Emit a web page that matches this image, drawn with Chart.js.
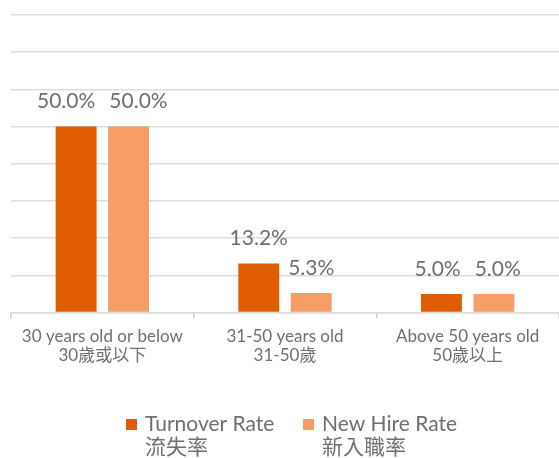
<!DOCTYPE html>
<html lang="zh-Hant">
<head>
    <meta charset="UTF-8">
    <title>Turnover and New Hire Rate by Age</title>
    <script src="https://cdn.jsdelivr.net/npm/chart.js"></script>
    <style>
        html, body { margin: 0; padding: 0; background: #fff; }
        #wrap { width: 559px; height: 458px; position: relative; }
    </style>
</head>
<body>
    <div id="wrap"><canvas id="rateChart"></canvas></div>

    <script type="text/javascript">
        // age groups (two lines each: English / Chinese)
        var categories = [
            ["30 years old or below", "30歲或以下"],
            ["31-50 years old", "31-50歲"],
            ["Above 50 years old", "50歲以上"]
        ];
        var turnoverRate = [50.0, 13.2, 5.0];
        var newHireRate = [50.0, 5.3, 5.0];
        var seriesNames = [["Turnover Rate", "流失率"], ["New Hire Rate", "新入職率"]];
        var seriesColors = ["#df5c00", "#f79e68"];

        var fontFamily = "Lato, 'Noto Sans CJK TC', sans-serif";
        var textColor = "#6e6e6e";

        // value labels above every bar, pushed apart when two of a group collide
        var barLabels = {
            id: "barLabels",
            afterDatasetsDraw: function(chart) {
                var ctx = chart.ctx;
                ctx.save();
                ctx.font = "21px " + fontFamily;
                ctx.fillStyle = textColor;
                ctx.textAlign = "center";
                ctx.textBaseline = "middle";
                var a = chart.getDatasetMeta(0).data;
                var b = chart.getDatasetMeta(1).data;
                var sets = chart.data.datasets;
                for (var j = 0; j < a.length; j++) {
                    var t1 = sets[0].data[j].toFixed(1) + "%";
                    var t2 = sets[1].data[j].toFixed(1) + "%";
                    var x1 = a[j].x, x2 = b[j].x;
                    var y1 = a[j].y - 25, y2 = b[j].y - 25;
                    if (Math.abs(y1 - y2) < 20) {
                        var need = (ctx.measureText(t1).width + ctx.measureText(t2).width) / 2 + 14;
                        var over = need - (x2 - x1);
                        if (over > 0) { x1 -= over / 2; x2 += over / 2; }
                    }
                    ctx.fillText(t1, x1, y1);
                    ctx.fillText(t2, x2, y2);
                }
                ctx.restore();
            }
        };

        // two-line legend at the bottom
        var bottomLegend = {
            id: "bottomLegend",
            afterDraw: function(chart) {
                var ctx = chart.ctx;
                ctx.save();
                ctx.font = "21px " + fontFamily;
                ctx.textBaseline = "middle";
                ctx.textAlign = "left";
                var xs = [126, 303];
                seriesNames.forEach(function(lines, i) {
                    ctx.fillStyle = seriesColors[i];
                    ctx.fillRect(xs[i], 419, 11, 11);
                    ctx.fillStyle = textColor;
                    ctx.fillText(lines[0], xs[i] + 19, 424);
                    ctx.fillText(lines[1], xs[i] + 19, 447);
                });
                ctx.restore();
            }
        };

        var ctx = document.getElementById("rateChart").getContext("2d");
        var rateChart = new Chart(ctx, {
            type: "bar",
            data: {
                labels: categories,
                datasets: [{
                    label: seriesNames[0].join(" "),
                    data: turnoverRate,
                    backgroundColor: seriesColors[0],
                    categoryPercentage: 0.574,
                    barPercentage: 0.78
                }, {
                    label: seriesNames[1].join(" "),
                    data: newHireRate,
                    backgroundColor: seriesColors[1],
                    categoryPercentage: 0.574,
                    barPercentage: 0.78
                }]
            },
            options: {
                responsive: true,
                maintainAspectRatio: false,
                animation: false,
                layout: { padding: { left: 11, right: 0, top: 15, bottom: 84 } },
                plugins: {
                    legend: { display: false },
                    tooltip: { enabled: false }
                },
                scales: {
                    x: {
                        grid: {
                            offset: true,
                            drawOnChartArea: false,
                            tickLength: 6,
                            color: "#d0d0d0",
                            lineWidth: 1.5
                        },
                        border: { color: "#d9d9d9", width: 1.5 },
                        ticks: {
                            color: textColor,
                            font: { family: fontFamily, size: 17, lineHeight: 1.1 },
                            padding: 9,
                            maxRotation: 0
                        }
                    },
                    y: {
                        min: 0,
                        max: 80,
                        ticks: { display: false, stepSize: 10 },
                        border: { display: false },
                        grid: { color: "#dcdcdc", lineWidth: 1.5, drawTicks: false }
                    }
                }
            },
            plugins: [barLabels, bottomLegend]
        });
    </script>
</body>
</html>
